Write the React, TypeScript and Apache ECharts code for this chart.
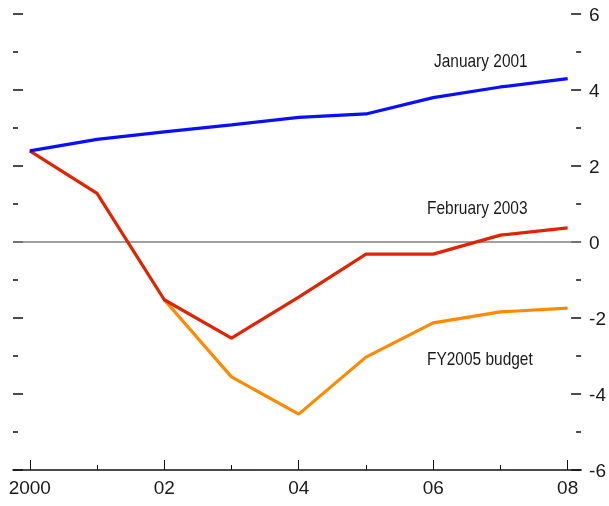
import React, { useEffect, useRef } from "react";
import * as echarts from "echarts";

const years = [2000, 2001, 2002, 2003, 2004, 2005, 2006, 2007, 2008];
const january2001 = [2.4, 2.7, 2.9, 3.08, 3.28, 3.37, 3.8, 4.08, 4.3];
const february2003 = [2.4, 1.28, -1.52, -2.53, -1.45, -0.32, -0.32, 0.18, 0.37];
const fy2005Years = [2002, 2003, 2004, 2005, 2006, 2007, 2008];
const fy2005Budget = [-1.52, -3.55, -4.53, -3.03, -2.13, -1.84, -1.74];
const majorYears = [2000, 2002, 2004, 2006, 2008];
const minorYears = [2001, 2003, 2005, 2007];
const seriesNames = ["January 2001", "February 2003", "FY2005 budget"];

const FONT = "'Liberation Sans Narrow', 'Liberation Sans', Arial, sans-serif";
const TXT = "#1a1a1a";

export default function App() {
  const ref = useRef<HTMLDivElement>(null);
  useEffect(() => {
    if (!ref.current) return;
    const chart = echarts.init(ref.current, null, { renderer: "svg" });
    const pairs = (xs: number[], ys: number[]) => xs.map((x, i) => [x, ys[i]]);
    const yAxisBase = {
      type: "value",
      min: -6,
      max: 6,
      interval: 2,
      axisLine: { show: false },
      splitLine: { show: false },
      axisTick: { show: true, inside: true, length: 10, lineStyle: { color: "#111", width: 1.5 } },
      minorTick: { show: true, splitNumber: 2, length: 5, lineStyle: { color: "#111", width: 1.5 } },
    };
    const note = (text: string, x: number, y: number) => ({
      type: "text",
      x,
      y,
      scaleX: 0.86,
      style: { text, fontFamily: FONT, fontSize: 18, fill: TXT, verticalAlign: "middle", align: "left" },
    });
    chart.setOption({
      animation: false,
      grid: { left: 13, right: 27, top: 14, bottom: 36 },
      xAxis: [
        {
          type: "value",
          min: 1999.75,
          max: 2008.2,
          position: "bottom",
          axisLine: { show: true, onZero: false, lineStyle: { color: "#111", width: 1.5 } },
          splitLine: { show: false },
          axisTick: {
            show: true,
            inside: true,
            length: 10,
            customValues: majorYears,
            lineStyle: { color: "#111", width: 1 },
          },
          axisLabel: {
            show: true,
            customValues: majorYears,
            margin: 8,
            color: TXT,
            fontFamily: FONT,
            fontSize: 19,
            formatter: (v: number) => (v === 2000 ? "2000" : String(v).slice(2)),
          },
        },
        {
          type: "value",
          min: 1999.75,
          max: 2008.2,
          position: "bottom",
          axisLine: { show: false, onZero: false },
          splitLine: { show: false },
          axisTick: {
            show: true,
            inside: true,
            length: 5,
            customValues: minorYears,
            lineStyle: { color: "#111", width: 1 },
          },
          axisLabel: { show: false },
        },
      ],
      yAxis: [
        { ...yAxisBase, position: "left", axisLabel: { show: false } },
        {
          ...yAxisBase,
          position: "right",
          axisLabel: { show: true, margin: 8, color: TXT, fontFamily: FONT, fontSize: 19 },
        },
      ],
      series: [
        {
          name: seriesNames[2],
          type: "line",
          data: pairs(fy2005Years, fy2005Budget),
          symbol: "none",
          lineStyle: { color: "#ff8a00", width: 3.2 },
          z: 2,
        },
        {
          name: seriesNames[1],
          type: "line",
          data: pairs(years, february2003),
          symbol: "none",
          lineStyle: { color: "#e02400", width: 3.2 },
          z: 3,
          markLine: {
            silent: true,
            symbol: "none",
            label: { show: false },
            lineStyle: { color: "#808080", width: 1.5, type: "solid" },
            data: [{ yAxis: 0 }],
            z: 1,
          },
        },
        {
          name: seriesNames[0],
          type: "line",
          data: pairs(years, january2001),
          symbol: "none",
          lineStyle: { color: "#0a10f5", width: 3.2 },
          z: 4,
        },
      ],
      graphic: [
        note(seriesNames[0], 434, 61),
        note(seriesNames[1], 427, 208),
        note(seriesNames[2], 427, 359),
      ],
    });
    return () => chart.dispose();
  }, []);
  return <div ref={ref} style={{ position: "fixed", left: 0, top: 0, width: 609, height: 506 }} />;
}
